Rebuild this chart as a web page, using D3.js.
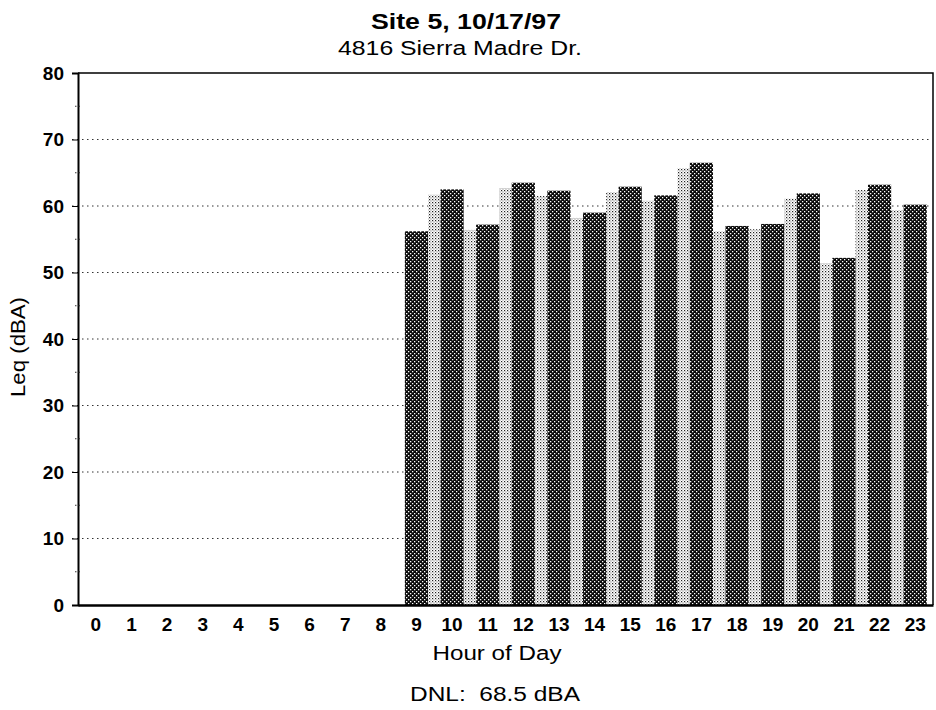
<!DOCTYPE html>
<html>
<head>
<meta charset="utf-8">
<script src="https://cdn.jsdelivr.net/npm/d3@7"></script>
<style>
  body { margin: 0; background: #fff; }
  svg { display: block; font-family: "Liberation Sans", Arial, sans-serif; }
</style>
</head>
<body>
<div id="chart"></div>
<script>
const hours = ['0', '1', '2', '3', '4', '5', '6', '7', '8', '9', '10', '11',
  '12', '13', '14', '15', '16', '17', '18', '19', '20', '21', '22', '23'];
const leq = [0, 0, 0, 0, 0, 0, 0, 0, 0, 56.2, 62.5, 57.2,
  63.5, 62.3, 59.0, 62.9, 61.6, 66.5, 57.0, 57.3, 61.9, 52.2, 63.2, 60.2];
const yTicks = [0, 10, 20, 30, 40, 50, 60, 70, 80];
const yMinorTicks = [5, 15, 25, 35, 45, 55, 65, 75];
const title = 'Site 5, 10/17/97';
const subtitle = '4816 Sierra Madre Dr.';
const xTitle = 'Hour of Day';
const yTitle = 'Leq (dBA)';
const footnote = 'DNL:  68.5 dBA';

let width = 936, height = 710;
let margin = {top: 73, right: 3, bottom: 105, left: 78};
let plotW = width - margin.left - margin.right;
let plotH = height - margin.top - margin.bottom;

let svg = d3.select('#chart').append('svg')
    .attr('width', width)
    .attr('height', height);

// Halftone patterns for the scanned look.
let defs = svg.append('defs');
let dark = defs.append('pattern')
    .attr('id', 'dark')
    .attr('patternUnits', 'userSpaceOnUse')
    .attr('width', 4).attr('height', 4);
dark.append('rect').attr('width', 4).attr('height', 4).attr('fill', '#0a0a0a');
dark.append('rect').attr('x', 0).attr('y', 0).attr('width', 1.3).attr('height', 1.3).attr('fill', '#fff');
dark.append('rect').attr('x', 2).attr('y', 2).attr('width', 1.3).attr('height', 1.3).attr('fill', '#fff');

let light = defs.append('pattern')
    .attr('id', 'light')
    .attr('patternUnits', 'userSpaceOnUse')
    .attr('width', 3).attr('height', 3);
light.append('rect').attr('width', 3).attr('height', 3).attr('fill', '#fff');
light.append('rect').attr('x', 0).attr('y', 0).attr('width', 1.2).attr('height', 1.2).attr('fill', '#222');
light.append('rect').attr('x', 1.5).attr('y', 1.5).attr('width', 1).attr('height', 1).attr('fill', '#555');

let g = svg.append('g')
    .attr('transform', `translate(${margin.left},${margin.top})`);

let x = d3.scaleBand()
    .domain(hours)
    .range([0, plotW])
    .paddingInner(0.35)
    .paddingOuter(0.175);

let y = d3.scaleLinear()
    .domain([0, 80])
    .range([plotH, 0]);

// Dotted gridlines.
g.append('g')
  .selectAll('line')
  .data(yTicks.filter(d => d > 0 && d < 80))
  .enter().append('line')
    .attr('x1', -6)
    .attr('x2', plotW - 3)
    .attr('y1', d => y(d))
    .attr('y2', d => y(d))
    .attr('stroke', '#333')
    .attr('stroke-width', 1)
    .attr('stroke-dasharray', '1.5,3.5');

// Light shading in the gap to the left of each bar.
let gap = x.step() * x.paddingInner();
let data = hours.map((h, i) => ({hour: h, value: leq[i], prev: i > 0 ? leq[i - 1] : 0}));

g.append('g')
  .selectAll('rect')
  .data(data.filter(d => d.value > 0 && d.prev > 0))
  .enter().append('rect')
    .attr('x', d => x(d.hour) - gap)
    .attr('y', d => y(d.value - 0.8))
    .attr('width', gap)
    .attr('height', d => plotH - y(d.value - 0.8))
    .attr('fill', 'url(#light)');

// Bars.
g.append('g')
  .selectAll('rect')
  .data(data.filter(d => d.value > 0))
  .enter().append('rect')
    .attr('x', d => x(d.hour))
    .attr('y', d => y(d.value))
    .attr('width', x.bandwidth())
    .attr('height', d => plotH - y(d.value))
    .attr('fill', 'url(#dark)');

// Frame: top and right.
g.append('path')
    .attr('d', `M0,0H${plotW}V${plotH}`)
    .attr('fill', 'none')
    .attr('stroke', '#000')
    .attr('stroke-width', 1.5);

// Y axis.
let yAxis = g.append('g')
    .call(d3.axisLeft(y).tickValues(yTicks).tickSize(6).tickPadding(8));
yAxis.select('.domain').attr('stroke-width', 2);
yAxis.selectAll('.tick text')
    .attr('font-size', 19)
    .attr('font-weight', 'bold')
    .attr('fill', '#000');

g.append('g')
  .selectAll('line')
  .data(yMinorTicks)
  .enter().append('line')
    .attr('x1', -3)
    .attr('x2', 3)
    .attr('y1', d => y(d))
    .attr('y2', d => y(d))
    .attr('stroke', '#333')
    .attr('stroke-dasharray', '1.5,2');

// X axis.
let xAxis = g.append('g')
    .attr('transform', `translate(0,${plotH})`)
    .call(d3.axisBottom(x).tickSize(0).tickPadding(13));
xAxis.select('.domain').attr('stroke-width', 2.5);
xAxis.selectAll('.tick text')
    .attr('font-size', 19)
    .attr('font-weight', 'bold')
    .attr('fill', '#000');

// Titles.
svg.append('text')
    .attr('x', 466)
    .attr('y', 29)
    .attr('text-anchor', 'middle')
    .attr('font-size', 22)
    .attr('font-weight', 'bold')
    .attr('textLength', 190)
    .attr('lengthAdjust', 'spacingAndGlyphs')
    .text(title);

svg.append('text')
    .attr('x', 460)
    .attr('y', 55)
    .attr('text-anchor', 'middle')
    .attr('font-size', 20)
    .attr('textLength', 244)
    .attr('lengthAdjust', 'spacingAndGlyphs')
    .text(subtitle);

svg.append('text')
    .attr('x', 497)
    .attr('y', 660)
    .attr('text-anchor', 'middle')
    .attr('font-size', 20)
    .attr('textLength', 129)
    .attr('lengthAdjust', 'spacingAndGlyphs')
    .text(xTitle);

svg.append('text')
    .attr('x', 495)
    .attr('y', 701)
    .attr('text-anchor', 'middle')
    .attr('font-size', 20)
    .attr('textLength', 170)
    .attr('lengthAdjust', 'spacingAndGlyphs')
    .style('white-space', 'pre')
    .text(footnote);

svg.append('text')
    .attr('transform', `translate(25,${margin.top + plotH / 2 + 8}) rotate(-90)`)
    .attr('text-anchor', 'middle')
    .attr('font-size', 20)
    .attr('textLength', 100)
    .attr('lengthAdjust', 'spacingAndGlyphs')
    .text(yTitle);
</script>
</body>
</html>
